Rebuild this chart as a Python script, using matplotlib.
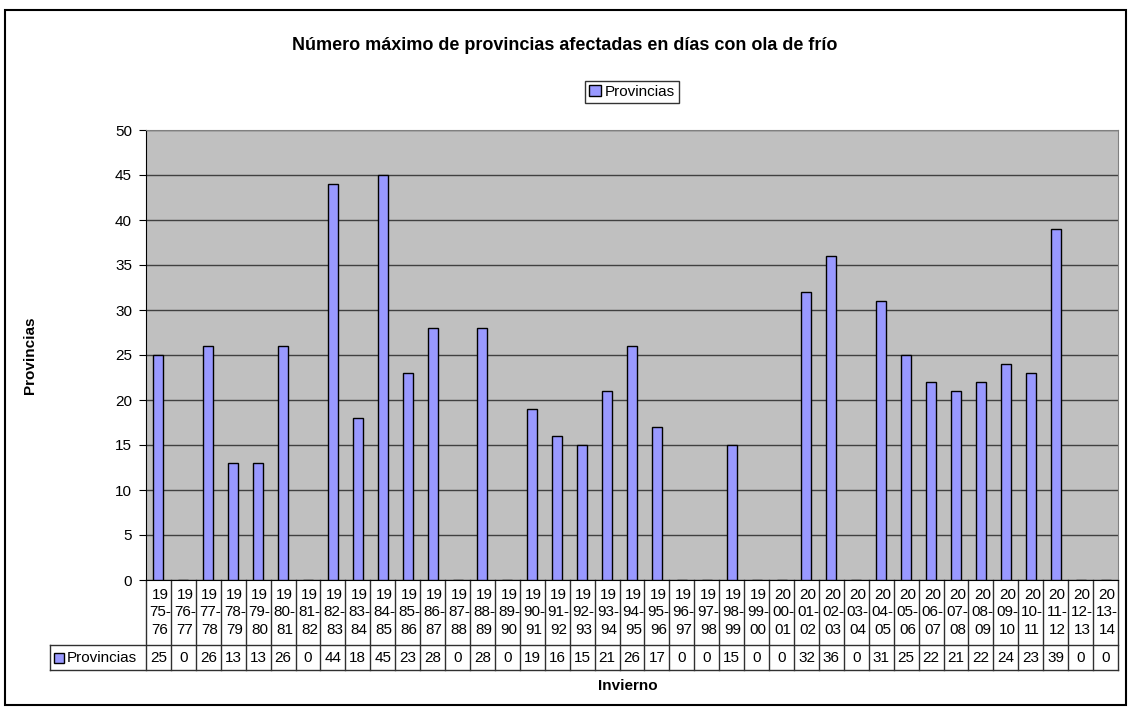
import matplotlib
matplotlib.use("Agg")
import matplotlib.pyplot as plt
import matplotlib.transforms as mtransforms
from matplotlib.patches import Rectangle

plt.rcParams["font.family"] = ["Liberation Sans", "DejaVu Sans"]

winters = [f"{y}-{str(y + 1)[2:]}" for y in range(1975, 2014)]
provincias = [25, 0, 26, 13, 13, 26, 0, 44, 18, 45, 23, 28, 0, 28, 0, 19, 16, 15,
              21, 26, 17, 0, 0, 15, 0, 0, 32, 36, 0, 31, 25, 22, 21, 22, 24, 23,
              39, 0, 0]
yticks = list(range(0, 55, 5))

W, H = 1131, 709
fig = plt.figure(figsize=(W / 100, H / 100), dpi=100)

# outer chart border
fig.patches.append(Rectangle((5 / W, 1 - 705 / H), 1121 / W, 695 / H,
                             transform=fig.transFigure, fill=False,
                             edgecolor="black", linewidth=1.5))

ax = fig.add_axes([146 / W, 1 - 580 / H, 972 / W, 450 / H])
ax.set_facecolor("#C0C0C0")
x = list(range(len(winters)))
ax.set_axisbelow(True)
ax.yaxis.grid(True, color="#404040", linewidth=1)
ax.bar(x, provincias, width=0.4, color="#9999FF", edgecolor="black", linewidth=1,
       label="Provincias", zorder=3)
ax.set_xlim(-0.5, len(winters) - 0.5)
ax.set_ylim(0, 50)
ax.set_yticks(yticks)
ax.tick_params(axis="y", direction="out", length=5, labelsize=11, pad=5)
ax.set_xticks([])
for s in ["top", "right"]:
    ax.spines[s].set_color("#808080")
ax.spines["left"].set_color("black")
ax.spines["bottom"].set_color("black")

# data table under the plot
tr = mtransforms.blended_transform_factory(ax.transData, ax.transAxes)
y_top, y_mid, y_bot = 0.0, -65 / 450, -90 / 450
x_left = -0.5 - 96 / (972 / len(winters))
lc = "#303030"
for i in range(len(winters) + 1):
    ax.plot([i - 0.5, i - 0.5], [y_top, y_bot], color=lc, lw=1, transform=tr, clip_on=False)
ax.plot([x_left, len(winters) - 0.5], [y_mid, y_mid], color=lc, lw=1, transform=tr, clip_on=False)
ax.plot([x_left, len(winters) - 0.5], [y_bot, y_bot], color=lc, lw=1, transform=tr, clip_on=False)
ax.plot([x_left, x_left], [y_mid, y_bot], color=lc, lw=1, transform=tr, clip_on=False)

for i, (w, v) in enumerate(zip(winters, provincias)):
    a, b = w.split("-")
    label = f"{a[:2]}\n{a[2:]}-\n{b}"
    ax.text(i + 0.06, (y_top + y_mid) / 2, label, transform=tr, ha="center", va="center",
            fontsize=11, linespacing=1.3)
    ax.text(i, (y_mid + y_bot) / 2, str(v), transform=tr, ha="center", va="center",
            fontsize=11)

cell_w = 972 / len(winters)
ax.add_patch(Rectangle((x_left + 4 / cell_w, (y_mid + y_bot) / 2 - 5 / 450), 10 / cell_w, 10 / 450,
                       transform=tr, facecolor="#9999FF", edgecolor="black", lw=1,
                       clip_on=False))
ax.text(x_left + 17 / cell_w, (y_mid + y_bot) / 2, "Provincias", transform=tr,
        ha="left", va="center", fontsize=11)

fig.text(565 / W, 1 - 46 / H, "Número máximo de provincias afectadas en días con ola de frío",
         ha="center", va="center", fontsize=13, fontweight="bold")
ax.set_ylabel("Provincias", fontsize=11, fontweight="bold")
ax.yaxis.set_label_coords(-(146 - 37) / 972, 0.5)
fig.text(628 / W, 1 - 686 / H, "Invierno", ha="center", va="center",
         fontsize=11, fontweight="bold")

leg = ax.legend(loc="center", bbox_to_anchor=(632 / W, 1 - 92 / H),
                bbox_transform=fig.transFigure, fontsize=11, frameon=True,
                fancybox=False, edgecolor="black", handlelength=0.75,
                handleheight=0.75, handletextpad=0.25, borderpad=0.25,
                borderaxespad=0)
leg.get_frame().set_linewidth(1)

fig.savefig("out.png", dpi=100)
